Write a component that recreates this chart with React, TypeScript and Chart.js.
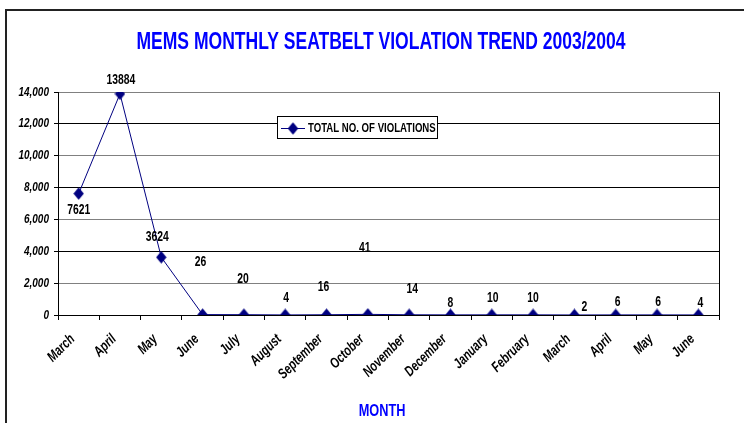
import React, { useEffect, useRef } from "react";
import { Chart, registerables } from "chart.js";

Chart.register(...registerables);

// ---- data ----
const months = [
  "March", "April", "May", "June", "July", "August", "September", "October",
  "November", "December", "January", "February", "March", "April", "May", "June",
];
const violations = [7621, 13884, 3624, 26, 20, 4, 16, 41, 14, 8, 10, 10, 2, 6, 6, 4];
const yTickValues = [0, 2000, 4000, 6000, 8000, 10000, 12000, 14000];

const TITLE = "MEMS MONTHLY SEATBELT VIOLATION TREND 2003/2004";
const X_TITLE = "MONTH";
const SERIES_NAME = "TOTAL NO. OF VIOLATIONS";

// data-label offsets (px) from each point, as placed in the original
const labelDx = [0, 1, -4, -2, -1, 1, -3, -3, 3, 0, 1, 0, 10, 2, 1, 2];
const labelDy = [17, -14, -20, -52, -36, -17, -28, -66, -26, -12, -17, -17, -8, -13, -13, -12];

// ---- style ----
const FONT = '"Liberation Sans", Arial, sans-serif';
const NAVY = "#000080";
const BLUE = "#0000FF";

function drawText(
  ctx: CanvasRenderingContext2D,
  text: string,
  x: number,
  y: number,
  font: string,
  color: string,
  align: CanvasTextAlign,
  sx: number,
  rot = 0
) {
  ctx.save();
  ctx.translate(x, y);
  if (rot) ctx.rotate(rot);
  ctx.scale(sx, 1);
  ctx.font = font;
  ctx.fillStyle = color;
  ctx.textAlign = align;
  ctx.textBaseline = "middle";
  ctx.fillText(text, 0, 0);
  ctx.restore();
}

function makeDiamond(): HTMLCanvasElement {
  const c = document.createElement("canvas");
  c.width = 11;
  c.height = 13;
  const g = c.getContext("2d")!;
  g.fillStyle = NAVY;
  g.beginPath();
  g.moveTo(5.5, 0.3);
  g.lineTo(10.7, 6.5);
  g.lineTo(5.5, 12.7);
  g.lineTo(0.3, 6.5);
  g.closePath();
  g.fill();
  return c;
}

export default function App() {
  const ref = useRef<HTMLCanvasElement>(null);

  useEffect(() => {
    if (!ref.current) return;
    const diamond = makeDiamond();

    const decor = {
      id: "decor",
      afterDraw(chart: any) {
        const ctx: CanvasRenderingContext2D = chart.ctx;
        const area = chart.chartArea;
        const xs = chart.scales.x;
        const ys = chart.scales.y;

        // outer frame (top + left)
        ctx.save();
        ctx.fillStyle = "#222";
        ctx.fillRect(5, 9, 744, 2);
        ctx.fillRect(5, 9, 2, 423);
        ctx.restore();

        // plot right border
        ctx.save();
        ctx.strokeStyle = "#000";
        ctx.lineWidth = 1;
        ctx.beginPath();
        ctx.moveTo(Math.round(area.right) + 0.5, area.top);
        ctx.lineTo(Math.round(area.right) + 0.5, area.bottom);
        ctx.stroke();
        ctx.restore();

        // title
        drawText(ctx, TITLE, 381, 42, `bold 24px ${FONT}`, BLUE, "center", 0.73);
        // x title
        drawText(ctx, X_TITLE, 382, 411, `bold 17px ${FONT}`, BLUE, "center", 0.75);

        // y tick labels
        yTickValues.forEach((v) => {
          const y = ys.getPixelForValue(v);
          drawText(ctx, v.toLocaleString("en-US"), 49, y, `italic bold 13px ${FONT}`, "#000", "right", 0.77);
        });

        // x tick labels
        months.forEach((m, i) => {
          const x = xs.getPixelForValue(i);
          drawText(ctx, m, x - 6, area.bottom + 22, `italic bold 14.5px ${FONT}`, "#000", "right", 0.75, -Math.PI / 4);
        });

        // data labels
        const meta = chart.getDatasetMeta(0);
        meta.data.forEach((pt: any, i: number) => {
          drawText(
            ctx,
            String(violations[i]),
            pt.x + labelDx[i],
            pt.y + labelDy[i],
            `bold 14px ${FONT}`,
            "#000",
            "center",
            0.74
          );
        });

        // legend box
        ctx.save();
        ctx.fillStyle = "#fff";
        ctx.fillRect(277, 116, 161, 23);
        ctx.strokeStyle = "#000";
        ctx.lineWidth = 1;
        ctx.strokeRect(277.5, 116.5, 160, 22);
        ctx.strokeStyle = NAVY;
        ctx.beginPath();
        ctx.moveTo(281, 128.5);
        ctx.lineTo(305, 128.5);
        ctx.stroke();
        ctx.drawImage(diamond, 293 - 5.5, 128.5 - 6.5);
        ctx.restore();
        drawText(ctx, SERIES_NAME, 308, 128, `bold 13px ${FONT}`, "#000", "left", 0.74);
      },
    };

    const chart = new Chart(ref.current, {
      type: "line",
      data: {
        labels: months,
        datasets: [
          {
            label: SERIES_NAME,
            data: violations,
            borderColor: NAVY,
            backgroundColor: NAVY,
            borderWidth: 1,
            pointStyle: diamond as any,
            pointRadius: 6,
            tension: 0,
            fill: false,
          },
        ],
      },
      options: {
        animation: false,
        responsive: false,
        devicePixelRatio: 1,
        layout: { padding: { top: 92, right: 25, left: 0, bottom: 0 } },
        plugins: {
          legend: { display: false },
          title: { display: false },
          tooltip: { enabled: false },
        },
        scales: {
          x: {
            type: "category",
            offset: true,
            ticks: { display: false },
            grid: {
              offset: true,
              drawOnChartArea: false,
              drawTicks: true,
              tickLength: 5,
              color: "#000",
            },
            border: { color: "#000", width: 1 },
            afterFit: (s: any) => {
              s.height = 108;
            },
          },
          y: {
            min: 0,
            max: 14000,
            ticks: { display: false, stepSize: 2000 },
            grid: {
              color: (c: any) => (c.tick && c.tick.value % 4000 === 0 ? "#000" : "#808080"),
              tickColor: "#000",
              tickLength: 4,
              drawTicks: true,
            },
            border: { color: "#000", width: 1 },
            afterFit: (s: any) => {
              s.width = 58;
            },
          },
        },
      },
      plugins: [decor],
    });

    return () => chart.destroy();
  }, []);

  return (
    <div style={{ position: "absolute", left: 0, top: 0, width: 744, height: 423, background: "#fff" }}>
      <canvas ref={ref} width={744} height={423} style={{ display: "block", width: 744, height: 423 }} />
    </div>
  );
}
